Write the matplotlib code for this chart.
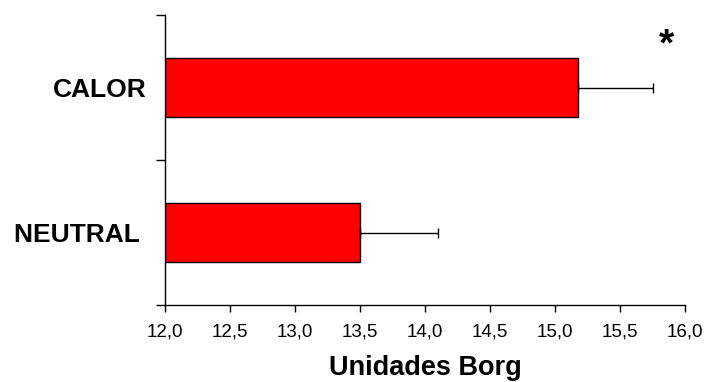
import matplotlib
matplotlib.use("Agg")
import matplotlib.pyplot as plt
from matplotlib.ticker import FixedLocator, FuncFormatter

# data
categories = ["NEUTRAL", "CALOR"]
means = [13.5, 15.18]
errors = [0.6, 0.57]
x_ticks = [12.0, 12.5, 13.0, 13.5, 14.0, 14.5, 15.0, 15.5, 16.0]

plt.rcParams["font.family"] = ["Liberation Sans", "DejaVu Sans"]

fig = plt.figure(figsize=(7.04, 3.82), dpi=100)
ax = fig.add_axes([165 / 704, 1 - 305 / 382, 520 / 704, 290 / 382])

pos = list(range(len(categories)))
base = x_ticks[0]
ax.barh(pos, [m - base for m in means], left=base, height=0.41,
        color="#FF0000", edgecolor="black", linewidth=1.0)
ax.errorbar(means, pos, xerr=[[0] * len(errors), errors], fmt="none",
            ecolor="black", elinewidth=1.0, capsize=3.6, capthick=1.0)

ax.set_xlim(x_ticks[0], x_ticks[-1])
ax.set_ylim(-0.5, len(categories) - 0.5)
ax.set_xticks(x_ticks)
ax.xaxis.set_major_formatter(FuncFormatter(lambda v, p: f"{v:.1f}".replace(".", ",")))
ax.tick_params(axis="x", direction="out", length=5, width=1, labelsize=13.5, pad=8)

ax.set_yticks(pos)
ax.set_yticklabels(["NEUTRAL ", "CALOR"], fontsize=19, fontweight="bold")
ax.tick_params(axis="y", which="major", length=0, pad=13.5)
ax.yaxis.set_minor_locator(FixedLocator([-0.5, 0.5, 1.5]))
ax.tick_params(axis="y", which="minor", direction="out", length=6.5, width=1)

for s in ("top", "right"):
    ax.spines[s].set_visible(False)
for s in ("left", "bottom"):
    ax.spines[s].set_linewidth(1)

ax.set_xlabel("Unidades Borg", fontsize=19.5, fontweight="bold", labelpad=11)

ax.text(15.86, 1.29, "*", fontsize=28, fontweight="bold", ha="center", va="center")

fig.savefig("out.png", dpi=100)
